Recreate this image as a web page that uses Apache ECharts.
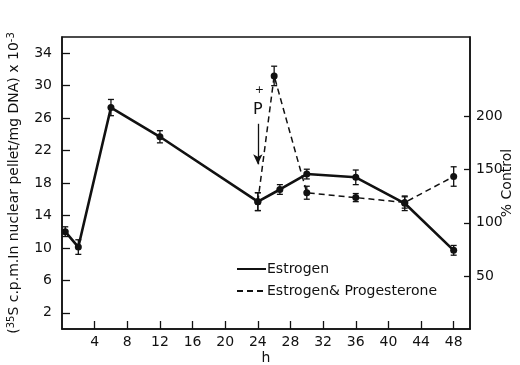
<!DOCTYPE html>
<html>
<head>
<meta charset="utf-8">
<script src="https://cdn.jsdelivr.net/npm/echarts@6/dist/echarts.min.js"></script>
<style>
  html, body { margin: 0; padding: 0; background: #fff; }
  #chart { width: 520px; height: 365px; }
</style>
</head>
<body>
<div id="chart"></div>
<script>
// hours after treatment
const hoursE = [0.4, 2, 6, 12, 24, 26.7, 30, 36, 42, 48];
const estrogen = [12.0, 10.1, 27.3, 23.7, 15.7, 17.2, 19.1, 18.7, 15.5, 9.7];
const estrogenErr = [0.6, 0.9, 1.0, 0.75, 1.1, 0.6, 0.6, 0.9, 0.9, 0.6];

const hoursEP = [24, 26, 30, 36, 42, 48];
const estProg = [15.7, 31.2, 16.8, 16.2, 15.6, 18.8];
const estProgErr = [1.1, 1.2, 0.8, 0.5, 0.7, 1.2];

const xTicks = [4, 8, 12, 16, 20, 24, 28, 32, 36, 40, 44, 48];
const leftTicks = [2, 6, 10, 14, 18, 22, 26, 30, 34];
const rightTicks = [50, 100, 150, 200];

const font = 'DejaVu Sans';
const ink = '#111';

const chart = echarts.init(document.getElementById('chart'));

const pairs = (xs, ys) => xs.map((x, i) => [x, ys[i]]);
const errData = (xs, ys, es) => xs.map((x, i) => [x, ys[i] - es[i], ys[i] + es[i]]);

function renderErr(params, api) {
  const x = api.value(0);
  const lo = api.coord([x, api.value(1)]);
  const hi = api.coord([x, api.value(2)]);
  const w = 3;
  const style = { stroke: ink, lineWidth: 1.3 };
  return {
    type: 'group',
    children: [
      { type: 'line', shape: { x1: lo[0], y1: lo[1], x2: hi[0], y2: hi[1] }, style },
      { type: 'line', shape: { x1: lo[0] - w, y1: lo[1], x2: lo[0] + w, y2: lo[1] }, style },
      { type: 'line', shape: { x1: hi[0] - w, y1: hi[1], x2: hi[0] + w, y2: hi[1] }, style },
    ],
  };
}

chart.setOption({
  animation: false,
  backgroundColor: '#fff',
  textStyle: { fontFamily: font, color: ink },
  grid: {
    left: 62, right: 50, top: 37, bottom: 36,
    outerBoundsMode: 'none', containLabel: false,
    show: true, borderColor: ink, borderWidth: 1.5, backgroundColor: 'transparent',
  },
  legend: {
    left: 236, top: 262, orient: 'vertical', itemGap: 8, padding: 0,
    itemWidth: 29, itemHeight: 12,
    itemStyle: { opacity: 0 },
    textStyle: { fontFamily: font, fontSize: 14, color: ink, padding: [0, 0, 0, -4] },
    data: ['Estrogen', 'Estrogen & Progesterone'],
    formatter: (n) => n === 'Estrogen' ? 'Estrogen' : 'Estrogen& Progesterone',
  },
  xAxis: {
    type: 'value', min: 0, max: 50,
    name: 'h', nameLocation: 'middle', nameGap: 22, nameMoveOverlap: false,
    nameTextStyle: { fontSize: 14, color: ink },
    axisLine: { lineStyle: { color: ink, width: 1.5 } },
    axisTick: { inside: true, length: 8, customValues: xTicks, lineStyle: { color: ink, width: 1.3 } },
    axisLabel: { customValues: xTicks, fontSize: 14, color: ink, margin: 6 },
    splitLine: { show: false },
  },
  yAxis: [
    {
      type: 'value', min: 0, max: 36, position: 'left',
      name: '{p|(}{s|35}{p|S c.p.m.In nuclear pellet/mg DNA) x 10}{s|-3}',
      nameLocation: 'middle', nameGap: 40, nameRotate: 90, nameMoveOverlap: false,
      nameTextStyle: {
        rich: {
          p: { fontFamily: font, fontSize: 14, color: ink },
          s: { fontFamily: font, fontSize: 10, color: ink, verticalAlign: 'top', padding: [0, 0, 6, 0] },
        },
      },
      axisLine: { show: true, lineStyle: { color: ink, width: 1.5 } },
      axisTick: { show: true, inside: true, length: 8, customValues: leftTicks, lineStyle: { color: ink, width: 1.3 } },
      axisLabel: { customValues: leftTicks, fontSize: 14, color: ink, margin: 10 },
      splitLine: { show: false },
    },
    {
      type: 'value', min: 0, max: 275, position: 'right',
      name: '% Control', nameLocation: 'middle', nameGap: 30, nameRotate: 90, nameMoveOverlap: false,
      nameTextStyle: { fontSize: 14, color: ink },
      axisLine: { show: true, lineStyle: { color: ink, width: 1.5 } },
      axisTick: { show: true, inside: true, length: 6, customValues: rightTicks, lineStyle: { color: ink, width: 1.3 } },
      axisLabel: { customValues: rightTicks, fontSize: 14, color: ink, margin: 6 },
      splitLine: { show: false },
    },
  ],
  series: [
    {
      name: 'Estrogen', type: 'line', data: pairs(hoursE, estrogen),
      symbol: 'circle', symbolSize: 7,
      itemStyle: { color: ink },
      lineStyle: { color: ink, width: 2.6 },
      z: 3,
    },
    {
      name: 'Estrogen & Progesterone', type: 'line', data: pairs(hoursEP, estProg),
      symbol: 'circle', symbolSize: 7,
      itemStyle: { color: ink },
      lineStyle: { color: ink, width: 1.5, type: [6, 4] },
      z: 3,
      markLine: {
        silent: true, symbol: ['none', 'arrow'], symbolSize: [7, 10],
        lineStyle: { color: ink, width: 1.3, type: 'solid' },
        label: { show: false },
        data: [[{ coord: [24, 25.3] }, { coord: [24, 20.3] }]],
      },
      markPoint: {
        silent: true, symbol: 'circle', symbolSize: 0,
        label: { show: true, color: ink, fontFamily: font },
        data: [
          { coord: [24, 27.0], label: { formatter: 'P', fontSize: 16 } },
          { coord: [24.2, 29.4], label: { formatter: '+', fontSize: 11 } },
        ],
      },
    },
    {
      name: 'errE', type: 'custom', renderItem: renderErr,
      data: errData(hoursE, estrogen, estrogenErr), z: 2,
    },
    {
      name: 'errEP', type: 'custom', renderItem: renderErr,
      data: errData(hoursEP, estProg, estProgErr), z: 2,
    },
  ],
});
</script>
</body>
</html>
